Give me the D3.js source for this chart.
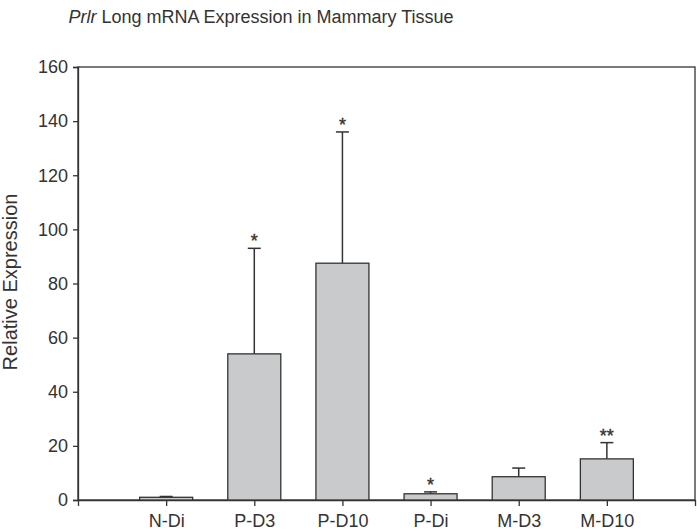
<!DOCTYPE html>
<html>
<head>
<meta charset="utf-8">
<script src="https://cdn.jsdelivr.net/npm/d3@7"></script>
<style>
  body { margin: 0; background: #fff; }
  text { font-family: "Liberation Sans", Arial, sans-serif; fill: #333; }
</style>
</head>
<body>
<svg id="chart" width="697" height="531"></svg>
<script>
// values
var groups = ["N-Di", "P-D3", "P-D10", "P-Di", "M-D3", "M-D10"];
var means  = [1.0, 54.0, 87.5, 2.3, 8.6, 15.2];
var errTop = [1.3, 93.0, 136.0, 3.0, 11.8, 21.2];
var marks  = ["", "*", "*", "*", "", "**"];
var yTicks = [0, 20, 40, 60, 80, 100, 120, 140, 160];

var svg = d3.select("#chart");
// plot box (note: "top" is taken by window.top)
var plotL = 78, plotR = 695, plotT = 67, plotB = 500;

var x = d3.scalePoint().domain(groups).range([plotL, plotR]).padding(1);
var y = d3.scaleLinear().domain([0, 160]).range([plotB, plotT]);
var barW = 53;

// frame
svg.append("rect")
  .attr("x", plotL).attr("y", plotT)
  .attr("width", plotR - plotL).attr("height", plotB - plotT)
  .attr("fill", "none").attr("stroke", "#333").attr("stroke-width", 1.3);

// y axis
var yAxis = svg.append("g")
  .attr("transform", "translate(" + plotL + ",0)")
  .call(d3.axisLeft(y).tickValues(yTicks).tickSize(5).tickPadding(5));
yAxis.select(".domain").attr("stroke", "#333").attr("stroke-width", 1.3);
yAxis.selectAll(".tick line").attr("stroke", "#333").attr("stroke-width", 1.3);
yAxis.selectAll(".tick text").attr("font-size", 18).attr("fill", "#333")
  .style("font-family", "Liberation Sans, Arial, sans-serif");

// x axis
var xAxis = svg.append("g")
  .attr("transform", "translate(0," + plotB + ")")
  .call(d3.axisBottom(x).tickSize(6).tickPadding(8));
xAxis.select(".domain").attr("stroke", "#333").attr("stroke-width", 1.3);
xAxis.selectAll(".tick line").attr("stroke", "#333").attr("stroke-width", 1.3);
xAxis.selectAll(".tick text").attr("font-size", 18).attr("fill", "#333")
  .style("font-family", "Liberation Sans, Arial, sans-serif");

// error bars (upper only)
var data = groups.map(function(g, i) {
  return { g: g, m: means[i], e: errTop[i], s: marks[i] };
});

svg.selectAll(".err").data(data).enter().append("line")
  .attr("class", "err")
  .attr("x1", function(d) { return x(d.g); })
  .attr("x2", function(d) { return x(d.g); })
  .attr("y1", function(d) { return y(d.m); })
  .attr("y2", function(d) { return y(d.e); })
  .attr("stroke", "#333").attr("stroke-width", 1.5);

svg.selectAll(".cap").data(data).enter().append("line")
  .attr("class", "cap")
  .attr("x1", function(d) { return x(d.g) - 6.5; })
  .attr("x2", function(d) { return x(d.g) + 6.5; })
  .attr("y1", function(d) { return y(d.e); })
  .attr("y2", function(d) { return y(d.e); })
  .attr("stroke", "#333").attr("stroke-width", 1.5);

// bars
svg.selectAll(".bar").data(data).enter().append("rect")
  .attr("class", "bar")
  .attr("x", function(d) { return x(d.g) - barW / 2; })
  .attr("y", function(d) { return y(d.m); })
  .attr("width", barW)
  .attr("height", function(d) { return plotB - y(d.m); })
  .attr("fill", "#c9cacc").attr("stroke", "#333").attr("stroke-width", 1.3);

// significance marks
svg.selectAll(".sig").data(data).enter().append("text")
  .attr("class", "sig")
  .attr("x", function(d) { return x(d.g); })
  .attr("y", function(d) { return y(d.e) - 1; })
  .attr("text-anchor", "middle")
  .attr("font-size", 18)
  .attr("stroke", "#333").attr("stroke-width", 0.4)
  .text(function(d) { return d.s; });

// title
var title = svg.append("text")
  .attr("x", 261).attr("y", 23)
  .attr("text-anchor", "middle")
  .attr("font-size", 18);
title.append("tspan").attr("font-style", "italic").text("Prlr");
title.append("tspan").text(" Long mRNA Expression in Mammary Tissue");

// y label
svg.append("text")
  .attr("transform", "translate(17,282) rotate(-90)")
  .attr("text-anchor", "middle")
  .attr("font-size", 20)
  .text("Relative Expression");
</script>
</body>
</html>
